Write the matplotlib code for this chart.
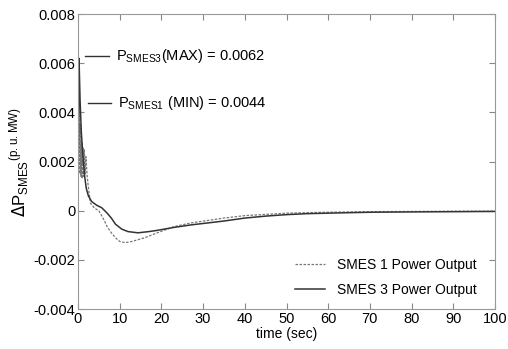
import matplotlib.pyplot as plt
import numpy as np

plt.rcParams['font.family'] = ['Liberation Sans', 'DejaVu Sans']

# SMES 3 (solid)
t_smes3 = [0, 0.25, 0.5, 0.8, 1.2, 1.6, 2.0, 2.5, 3.3, 4.5, 5.7, 7, 8, 9, 10.5, 12,
           14.4, 17, 19, 23, 27, 31, 35, 40, 45, 50, 55, 60, 65, 71, 80, 90, 100]
p_smes3 = [0, 0.0062, 0.0045, 0.0032, 0.0022, 0.0014, 0.0009, 0.0006, 0.00037, 0.00022,
           0.00012, -0.0001, -0.0003, -0.00055, -0.00075, -0.00085, -0.0009, -0.00085,
           -0.0008, -0.00068, -0.00058, -0.0005, -0.00042, -0.0003, -0.00022, -0.00016,
           -0.00012, -0.0001, -0.00008, -0.00006, -0.00005, -0.00004, -0.00003]

# SMES 1 (dashed)
t_smes1 = [0, 0.25, 0.4, 0.55, 0.7, 0.85, 1.0, 1.15, 1.3, 1.5, 1.7, 1.9, 2.2, 2.6, 3.0,
           4, 5, 6, 7, 8, 9, 10, 11.3, 13, 16, 19, 23, 27, 31, 35, 40, 45, 50, 55, 60,
           70, 80, 90, 100]
p_smes1 = [0, 0.0044, 0.0015, 0.0035, 0.0014, 0.0028, 0.0013, 0.0026, 0.0014, 0.0025,
           0.0015, 0.0022, 0.0014, 0.0008, 0.0003, 0.0001, 0.0, -0.0003, -0.00065,
           -0.0009, -0.0011, -0.00125, -0.0013, -0.00125, -0.0011, -0.0009, -0.00065,
           -0.0005, -0.0004, -0.0003, -0.0002, -0.00015, -0.0001, -0.00008, -0.00006,
           -0.00004, -0.00003, -0.00002, -0.00002]

x_ticks = list(range(0, 101, 10))
y_ticks = [-0.004, -0.002, 0, 0.002, 0.004, 0.006, 0.008]
y_labels = ['-0.004', '-0.002', '0', '0.002', '0.004', '0.006', '0.008']

fig = plt.figure(figsize=(5.08, 3.49), dpi=100)
ax = fig.add_axes([0.1535, 0.1146, 0.821, 0.845])

ax.plot(t_smes1, p_smes1, color='#777777', linestyle=(0, (2, 1.2)), linewidth=0.9,
        label='SMES 1 Power Output')
ax.plot(t_smes3, p_smes3, color='#333333', linewidth=1.1, label='SMES 3 Power Output')

ax.set_xlim(0, 100)
ax.set_ylim(-0.004, 0.008)
ax.set_xticks(x_ticks)
ax.set_yticks(y_ticks)
ax.set_yticklabels(y_labels)
ax.tick_params(direction='in', top=True, right=True, labelsize=10.5, length=4,
               color='#888888', pad=2)
for s in ax.spines.values():
    s.set_color('#999999')

ax.set_xlabel('time (sec)', fontsize=10, labelpad=1)
ax.set_ylabel(r'$\Delta$P$_{\mathregular{SMES}}$$^{\mathregular{(p.u.MW)}}$',
              fontsize=12, labelpad=2)

# max/min annotations
ax.plot([1.7, 7.5], [0.0063, 0.0063], color='#333333', linewidth=1)
ax.text(9.2, 0.0063, r'P$_{\mathregular{SMES3}}$(MAX) = 0.0062', fontsize=10.5, va='center')
ax.plot([2.3, 8.0], [0.0044, 0.0044], color='#333333', linewidth=1)
ax.text(9.6, 0.0044, r'P$_{\mathregular{SMES1}}$ (MIN) = 0.0044', fontsize=10.5, va='center')

ax.legend(loc='lower right', frameon=False, fontsize=10, handlelength=2.2,
          labelspacing=0.75, bbox_to_anchor=(0.985, 0.0))

fig.savefig('out.png')
